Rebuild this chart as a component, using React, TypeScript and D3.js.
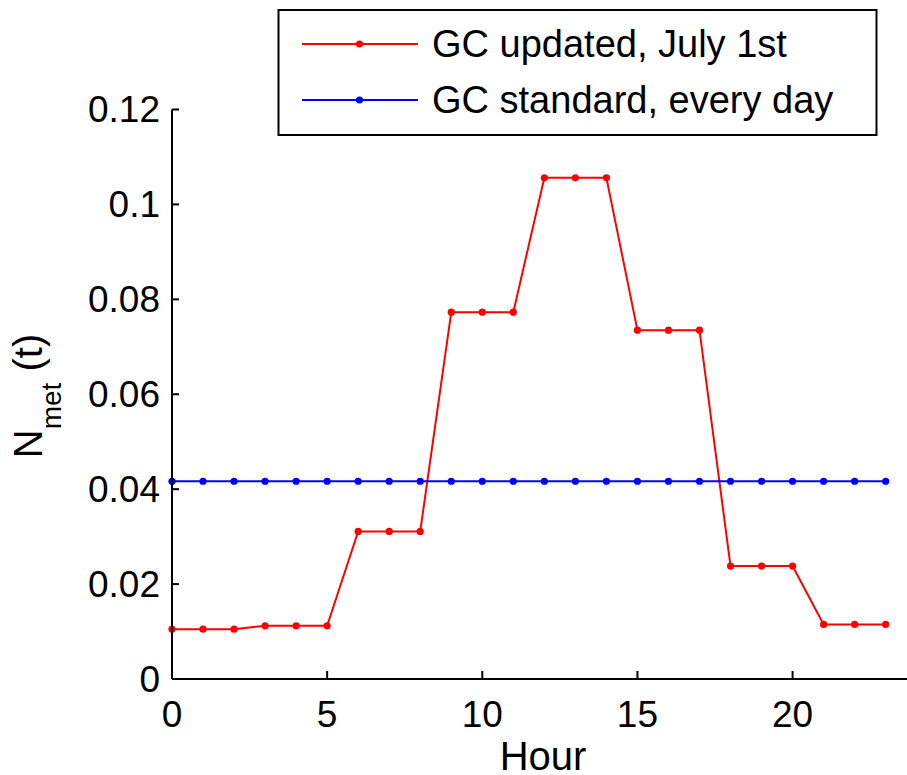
import React from "react";
import * as d3 from "d3";

// Hourly N_met(t) profiles
const hours: number[] = d3.range(0, 24);
const updatedJuly1: number[] = [
  0.0105, 0.0105, 0.0105, 0.0112, 0.0112, 0.0112,
  0.0311, 0.0311, 0.0311, 0.0773, 0.0773, 0.0773,
  0.1056, 0.1056, 0.1056, 0.0735, 0.0735, 0.0735,
  0.0238, 0.0238, 0.0238, 0.0115, 0.0115, 0.0115,
];
const standardEveryDay: number[] = hours.map(() => 1 / 24);

const xTicks: number[] = [0, 5, 10, 15, 20];
const yTicks: number[] = [0, 0.02, 0.04, 0.06, 0.08, 0.1, 0.12];

const seriesNames: string[] = ["GC updated, July 1st", "GC standard, every day"];
const seriesColors: string[] = ["#ff0000", "#0000ff"];

const W = 907;
const H = 775;
const FONT = "'Liberation Sans', Arial, Helvetica, sans-serif";

export default function App() {
  const x = d3.scaleLinear().domain([0, 24]).range([172, 916.7]);
  const y = d3.scaleLinear().domain([0, 0.12]).range([679, 109.5]);

  const line = d3
    .line<[number, number]>()
    .x((d) => x(d[0]))
    .y((d) => y(d[1]));

  const series = [updatedJuly1, standardEveryDay].map((vals) =>
    hours.map((h, i) => [h, vals[i]] as [number, number])
  );

  const tickFmt = (v: number) => (v === 0 ? "0" : d3.format("")(+v.toFixed(2)));

  return (
    <svg
      width={W}
      height={H}
      style={{ position: "absolute", left: 0, top: 0, background: "#fff" }}
      fontFamily={FONT}
    >
      <rect x={0} y={0} width={W} height={H} fill="#fff" />

      {/* series */}
      {series.map((pts, si) => (
        <g key={si}>
          <path d={line(pts) || ""} fill="none" stroke={seriesColors[si]} strokeWidth={2} />
          {pts.map((p, i) => (
            <circle key={i} cx={x(p[0])} cy={y(p[1])} r={3.6} fill={seriesColors[si]} />
          ))}
        </g>
      ))}

      {/* axes */}
      <line x1={x(0)} x2={W} y1={y(0)} y2={y(0)} stroke="#000" strokeWidth={2} />
      <line x1={x(0)} x2={x(0)} y1={y(0)} y2={y(0.12)} stroke="#000" strokeWidth={2} />

      {yTicks.map((t) => (
        <g key={"y" + t}>
          <line x1={x(0)} x2={x(0) + 7} y1={y(t)} y2={y(t)} stroke="#000" strokeWidth={2} />
          <text
            x={160}
            y={y(t)}
            textAnchor="end"
            dominantBaseline="central"
            fontSize={37}
            fill="#000"
          >
            {tickFmt(t)}
          </text>
        </g>
      ))}

      {xTicks.map((t) => (
        <g key={"x" + t}>
          <line x1={x(t)} x2={x(t)} y1={y(0)} y2={y(0) - 8} stroke="#000" strokeWidth={2} />
          <text x={x(t)} y={727} textAnchor="middle" fontSize={37} fill="#000">
            {t}
          </text>
        </g>
      ))}

      {/* axis labels */}
      <text x={543} y={770} textAnchor="middle" fontSize={40} fill="#000">
        Hour
      </text>
      <text
        transform="translate(42,396) rotate(-90)"
        textAnchor="middle"
        fontSize={40}
        fill="#000"
      >
        N
        <tspan fontSize={28} dy={19}>met</tspan>
        <tspan dy={-19}>{" (t)"}</tspan>
      </text>

      {/* legend */}
      <rect x={278.5} y={10} width={598} height={125} fill="#fff" stroke="#000" strokeWidth={2} />
      {seriesNames.map((name, i) => {
        const ly = 44 + i * 56;
        return (
          <g key={name}>
            <line x1={302} x2={418} y1={ly} y2={ly} stroke={seriesColors[i]} strokeWidth={2} />
            <circle cx={359.5} cy={ly} r={3.6} fill={seriesColors[i]} />
            <text x={432} y={ly} dominantBaseline="central" fontSize={38} fill="#000">
              {name}
            </text>
          </g>
        );
      })}
    </svg>
  );
}
